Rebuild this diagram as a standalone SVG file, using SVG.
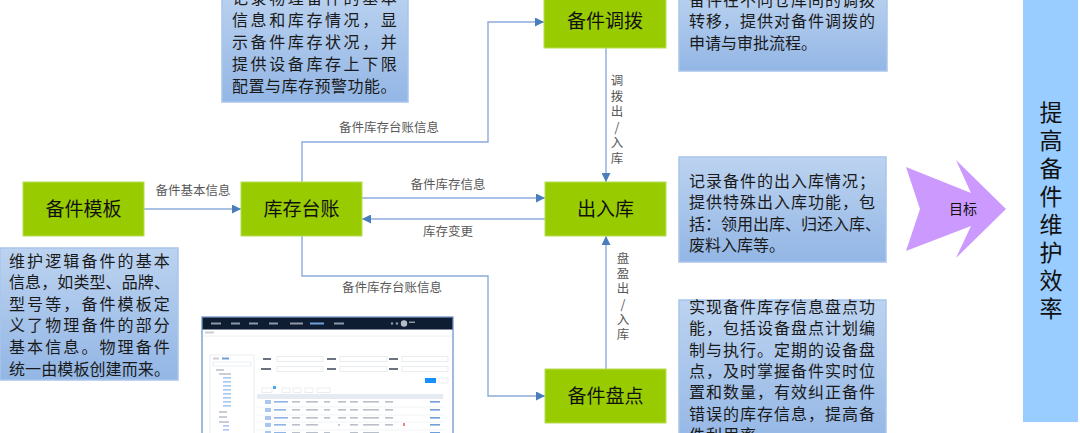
<svg xmlns="http://www.w3.org/2000/svg" width="1080" height="433" viewBox="0 0 1080 433">
<defs>
<linearGradient id="blueGrad" x1="0" y1="0" x2="0" y2="1">
<stop offset="0" stop-color="#bcd3f0"/>
<stop offset="1" stop-color="#93b6e5"/>
</linearGradient>
<marker id="arr" viewBox="0 0 10 10" refX="10" refY="5" markerWidth="11" markerHeight="9" markerUnits="userSpaceOnUse" orient="auto">
<path d="M0,0 L10,5 L0,10 z" fill="#4a7ebb"/>
</marker>
</defs>
<style>
.node{fill:#99cc00;stroke:#b8dd55;stroke-width:1}
.nlabel{font-family:"Noto Sans CJK SC","Noto Sans CJK JP",sans-serif;font-size:19px;fill:#111;text-anchor:middle}
.conn{fill:none;stroke:#8eabdb;stroke-width:1.4}
.clabel{font-family:"Noto Sans CJK SC","Noto Sans CJK JP",sans-serif;font-size:12.5px;fill:#595959;text-anchor:middle}
.vlabel{font-family:"Noto Sans CJK SC","Noto Sans CJK JP",sans-serif;font-size:12.5px;fill:#595959;writing-mode:vertical-rl;text-orientation:upright}
.note{fill:url(#blueGrad);stroke:#a9c5ec;stroke-width:1.5}
.ntext{font-family:"Noto Sans CJK SC","Noto Sans CJK JP",sans-serif;font-size:16px;fill:#1a1a1a}
.bar{fill:#c9ced6}
.inp{fill:#fff;stroke:#dde1e6;stroke-width:0.6}
</style>
<rect width="1080" height="433" fill="#fff"/>

<!-- connectors -->
<g id="connectors">
<line class="conn" x1="144" y1="209" x2="241" y2="209" marker-end="url(#arr)"/>
<line class="conn" x1="362" y1="198" x2="545" y2="198" marker-end="url(#arr)"/>
<line class="conn" x1="545" y1="219" x2="362" y2="219" marker-end="url(#arr)"/>
<polyline class="conn" points="302,182 302,142 488,142 488,22 544,22" marker-end="url(#arr)"/>
<polyline class="conn" points="302,236 302,276 488,276 488,396 545,396" marker-end="url(#arr)"/>
<line class="conn" x1="606" y1="48" x2="606" y2="182" marker-end="url(#arr)"/>
<line class="conn" x1="606" y1="369" x2="606" y2="236" marker-end="url(#arr)"/>
<text class="clabel" x="193" y="195">备件基本信息</text>
<text class="clabel" x="389" y="132">备件库存台账信息</text>
<text class="clabel" x="392" y="292">备件库存台账信息</text>
<text class="clabel" x="448" y="189">备件库存信息</text>
<text class="clabel" x="448" y="236">库存变更</text>
<text class="vlabel" x="617" y="74" letter-spacing="3">调拨出/入库</text>
<text class="vlabel" x="623" y="252" letter-spacing="2.7">盘盈出/入库</text>
</g>

<!-- nodes -->
<g id="node-template">
<rect class="node" x="23" y="182" width="121" height="54"/>
<text class="nlabel" x="83.5" y="216">备件模板</text>
</g>
<g id="node-ledger">
<rect class="node" x="241" y="182" width="121" height="54"/>
<text class="nlabel" x="301.5" y="216">库存台账</text>
</g>
<g id="node-inout">
<rect class="node" x="545" y="182" width="121" height="54"/>
<text class="nlabel" x="605.5" y="216">出入库</text>
</g>
<g id="node-transfer">
<rect class="node" x="544" y="-6" width="122" height="54"/>
<text class="nlabel" x="605" y="28">备件调拨</text>
</g>
<g id="node-inventory">
<rect class="node" x="545" y="369" width="121" height="54"/>
<text class="nlabel" x="605.5" y="403">备件盘点</text>
</g>

<!-- notes -->
<g id="note-ledger">
<rect class="note" x="222" y="-12" width="186" height="114"/>
<text class="ntext">
<tspan x="232" y="4" letter-spacing="2.6">记录物理备件的基本</tspan>
<tspan x="232" y="26" letter-spacing="2.6">信息和库存情况，显</tspan>
<tspan x="232" y="48" letter-spacing="2.6">示备件库存状况，并</tspan>
<tspan x="232" y="70" letter-spacing="2.6">提供设备库存上下限</tspan>
<tspan x="232" y="92" letter-spacing="0.5">配置与库存预警功能。</tspan>
</text>
</g>
<g id="note-transfer">
<rect class="note" x="679" y="-12" width="208" height="83"/>
<text class="ntext">
<tspan x="689" y="6" letter-spacing="1">备件在不同仓库间的调拨</tspan>
<tspan x="689" y="27" letter-spacing="1">转移，提供对备件调拨的</tspan>
<tspan x="689" y="49" letter-spacing="0">申请与审批流程。</tspan>
</text>
</g>
<g id="note-inout">
<rect class="note" x="679" y="157" width="207" height="105"/>
<text class="ntext">
<tspan x="689" y="187" letter-spacing="1">记录备件的出入库情况；</tspan>
<tspan x="689" y="208" letter-spacing="1">提供特殊出入库功能，包</tspan>
<tspan x="689" y="230" letter-spacing="0">括：领用出库、归还入库、</tspan>
<tspan x="689" y="251" letter-spacing="0">废料入库等。</tspan>
</text>
</g>
<g id="note-inventory">
<rect class="note" x="679" y="300" width="207" height="150"/>
<text class="ntext" letter-spacing="1">
<tspan x="689" y="313">实现备件库存信息盘点功</tspan>
<tspan x="689" y="334">能，包括设备盘点计划编</tspan>
<tspan x="689" y="356">制与执行。定期的设备盘</tspan>
<tspan x="689" y="377">点，及时掌握备件实时位</tspan>
<tspan x="689" y="398">置和数量，有效纠正备件</tspan>
<tspan x="689" y="420">错误的库存信息，提高备</tspan>
<tspan x="689" y="441">件利用率</tspan>
</text>
</g>
<g id="note-template">
<rect class="note" x="0" y="248" width="178" height="132"/>
<text class="ntext">
<tspan x="9" y="267" letter-spacing="2.1">维护逻辑备件的基本</tspan>
<tspan x="9" y="288" letter-spacing="0.1">信息，如类型、品牌、</tspan>
<tspan x="9" y="310" letter-spacing="2.1">型号等，备件模板定</tspan>
<tspan x="9" y="331" letter-spacing="2.1">义了物理备件的部分</tspan>
<tspan x="9" y="353" letter-spacing="2.1">基本信息。物理备件</tspan>
<tspan x="9" y="375" letter-spacing="0.1">统一由模板创建而来。</tspan>
</text>
</g>

<!-- goal arrow -->
<g id="goal-arrow">
<polygon points="906,167 971,193 956,160 1006,209 956,258 971,226 906,251 920,209" fill="#cc99ff"/>
<text x="963" y="214" font-family="Noto Sans CJK SC, sans-serif" font-size="14" fill="#111" text-anchor="middle">目标</text>
</g>

<!-- goal panel -->
<g id="goal">
<rect x="1023" y="-2" width="55" height="424" fill="#99ccff"/>
<text x="1051" y="100.5" font-family="Noto Sans CJK SC, sans-serif" font-size="23" fill="#111" writing-mode="vertical-rl" text-orientation="upright" letter-spacing="5">提高备件维护效率</text>
</g>

<!-- screenshot mock -->
<g id="screenshot">
<rect x="202" y="317" width="251" height="130" fill="#fff" stroke="#4472c4" stroke-width="1"/>
<rect x="202.5" y="317.5" width="250" height="12" fill="#0f1d33"/>
<g fill="#8d97a6">
<rect x="211" y="322.5" width="10" height="2"/>
<rect x="231" y="322.5" width="9" height="2"/>
<rect x="249" y="322.5" width="9" height="2"/>
<rect x="269" y="322.5" width="9" height="2"/>
<rect x="290" y="322.5" width="13" height="2"/>
<rect x="310" y="322.5" width="14" height="2" fill="#6f9fd8"/>
<rect x="334" y="322.5" width="10" height="2"/>
<circle cx="392" cy="323.5" r="1.2"/>
<circle cx="397" cy="323.5" r="1.2"/>
<circle cx="404" cy="323.5" r="3.2" fill="#b5bcc7"/>
<rect x="409" y="321.5" width="6" height="1.5"/>
</g>
<rect x="205" y="331.5" width="9" height="2" class="bar"/>
<line x1="203" y1="336" x2="452" y2="336" stroke="#eef0f3" stroke-width="1"/>
<rect x="210" y="355" width="44" height="90" fill="#fff" stroke="#e1e4e8" stroke-width="0.7"/>
<rect x="213" y="357.5" width="6" height="2" class="bar"/>
<rect x="222" y="357.5" width="7" height="2" fill="#6f9fd8"/>
<rect x="213" y="362" width="38" height="4" class="inp"/>
<g class="bar">
<rect x="216" y="369" width="8" height="2"/>
<rect x="219" y="373" width="12" height="2"/>
<rect x="223" y="377" width="8" height="1.6" fill="#a9c7ec"/>
<rect x="223" y="381" width="8" height="1.6" fill="#a9c7ec"/>
<rect x="223" y="385" width="8" height="1.6" fill="#a9c7ec"/>
<rect x="223" y="389" width="8" height="1.6" fill="#a9c7ec"/>
<rect x="223" y="393" width="8" height="1.6" fill="#a9c7ec"/>
<rect x="223" y="397" width="8" height="1.6" fill="#a9c7ec"/>
<rect x="223" y="401" width="8" height="1.6" fill="#a9c7ec"/>
<rect x="223" y="405" width="8" height="1.6" fill="#a9c7ec"/>
<rect x="219" y="411" width="8" height="2"/>
<rect x="219" y="416" width="8" height="2"/>
<rect x="219" y="421" width="10" height="2"/>
<rect x="223" y="425" width="6" height="1.6" fill="#a9c7ec"/>
<rect x="223" y="429" width="6" height="1.6" fill="#a9c7ec"/>
</g>
<g>
<rect x="263" y="358" width="8" height="2" fill="#6b7280"/>
<rect x="277" y="356.5" width="46" height="5" class="inp"/>
<rect x="327" y="358" width="9" height="2" fill="#6b7280"/>
<rect x="340" y="356.5" width="47" height="5" class="inp"/>
<rect x="389" y="358" width="9" height="2" fill="#6b7280"/>
<rect x="402" y="356.5" width="46" height="5" class="inp"/>
<rect x="261" y="368" width="10" height="2" fill="#6b7280"/>
<rect x="277" y="366.5" width="46" height="5" class="inp"/>
<rect x="327" y="368" width="9" height="2" fill="#6b7280"/>
<rect x="340" y="366.5" width="47" height="5" class="inp"/>
<rect x="389" y="368" width="9" height="2" fill="#6b7280"/>
<rect x="402" y="366.5" width="46" height="5" class="inp"/>
</g>
<rect x="425" y="378" width="11" height="5" fill="#1890ff"/>
<rect x="439" y="378" width="9" height="5" class="inp"/>
<g class="inp">
<rect x="262" y="388" width="10" height="4.5"/>
<rect x="282" y="388" width="8" height="4.5"/>
<rect x="293" y="388" width="8" height="4.5"/>
<rect x="305" y="388" width="8" height="4.5"/>
<rect x="317" y="388" width="13" height="4.5"/>
</g>
<rect x="273" y="386" width="3" height="3" fill="#4aa3f5"/>
<rect x="257" y="394" width="186" height="5" fill="#e6ebf1"/>
<g stroke="#eef0f3" stroke-width="0.8">
<line x1="257" y1="407" x2="443" y2="407"/>
<line x1="257" y1="415" x2="443" y2="415"/>
<line x1="257" y1="422" x2="443" y2="422"/>
<line x1="257" y1="430" x2="443" y2="430"/>
</g>
<g fill="#a9c7ec">
<rect x="265" y="400" width="6" height="4"/>
<rect x="265" y="408" width="6" height="4"/>
<rect x="265" y="416" width="6" height="4"/>
<rect x="265" y="423" width="6" height="4"/>
<rect x="265" y="431" width="6" height="4"/>
</g>
<g fill="#b9bfc8">
<rect x="274" y="401" width="14" height="1.6" fill="#8fb4e6"/>
<rect x="292" y="401" width="8" height="1.6"/>
<rect x="306" y="401" width="12" height="1.6"/>
<rect x="324" y="401" width="6" height="1.6"/>
<rect x="338" y="401" width="8" height="1.6"/>
<rect x="350" y="401" width="8" height="1.6"/>
<rect x="363" y="401" width="16" height="1.6"/>
<rect x="385" y="401" width="8" height="1.6"/>
<rect x="430" y="401" width="10" height="1.6" fill="#6f9fd8"/>
<rect x="274" y="409" width="12" height="1.6" fill="#8fb4e6"/>
<rect x="292" y="409" width="8" height="1.6"/>
<rect x="306" y="409" width="12" height="1.6"/>
<rect x="324" y="409" width="6" height="1.6"/>
<rect x="338" y="409" width="8" height="1.6"/>
<rect x="350" y="409" width="8" height="1.6"/>
<rect x="363" y="409" width="16" height="1.6"/>
<rect x="385" y="409" width="8" height="1.6"/>
<rect x="430" y="409" width="10" height="1.6" fill="#6f9fd8"/>
<rect x="274" y="417" width="14" height="1.6" fill="#8fb4e6"/>
<rect x="292" y="417" width="8" height="1.6"/>
<rect x="306" y="417" width="12" height="1.6"/>
<rect x="324" y="417" width="6" height="1.6"/>
<rect x="338" y="417" width="8" height="1.6"/>
<rect x="350" y="417" width="8" height="1.6"/>
<rect x="363" y="417" width="16" height="1.6"/>
<rect x="385" y="417" width="8" height="1.6"/>
<rect x="430" y="417" width="10" height="1.6" fill="#6f9fd8"/>
<rect x="274" y="424" width="12" height="1.6" fill="#8fb4e6"/>
<rect x="292" y="424" width="8" height="1.6"/>
<rect x="306" y="424" width="12" height="1.6"/>
<rect x="338" y="424" width="2" height="1.6"/>
<rect x="350" y="424" width="8" height="1.6"/>
<rect x="363" y="424" width="16" height="1.6"/>
<rect x="385" y="424" width="8" height="1.6"/>
<rect x="403" y="423" width="2" height="3" fill="#f08080"/>
<rect x="430" y="424" width="10" height="1.6" fill="#6f9fd8"/>
<rect x="274" y="432" width="12" height="1.6" fill="#8fb4e6"/>
<rect x="292" y="432" width="8" height="1.6"/>
<rect x="306" y="432" width="12" height="1.6"/>
<rect x="324" y="432" width="6" height="1.6"/>
<rect x="350" y="432" width="8" height="1.6"/>
<rect x="363" y="432" width="16" height="1.6"/>
<rect x="430" y="432" width="10" height="1.6" fill="#6f9fd8"/>
</g>
</g>
</svg>
